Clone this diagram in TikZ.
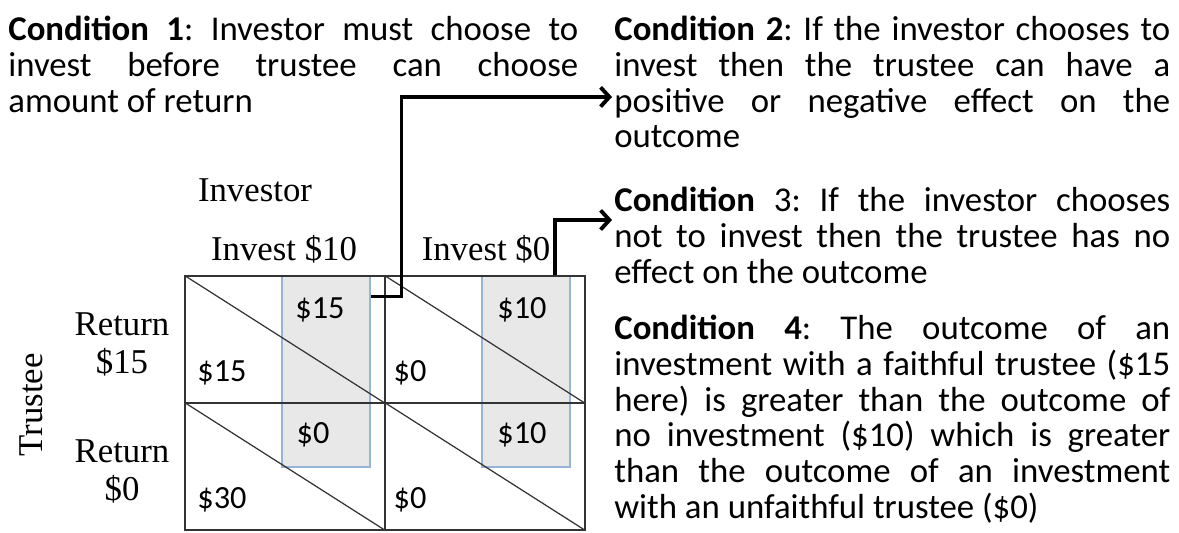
\documentclass[tikz,border=0pt]{standalone}
\usepackage{fontspec}
\setmainfont{Carlito}
\newfontfamily\tnr{Liberation Serif}
\usepackage{tikz}
\usetikzlibrary{arrows.meta, positioning, calc}
\definecolor{hlblue}{RGB}{150,180,215}
\frenchspacing

\begin{document}
\begin{tikzpicture}[
  x=0.02cm, y=-0.02cm,
  cond/.style={font=\fontsize{19.8}{20.3}\selectfont, align=justify, inner sep=0pt, anchor=north west},
  lbl/.style={font=\tnr\fontsize{19.8}{21.6}\selectfont, inner sep=1pt, align=center},
  pay/.style={font=\fontsize{18.4}{20}\selectfont, inner sep=1pt},
  cell/.style={draw=black!80, line width=0.7pt, minimum width=4cm, minimum height=2.54cm, inner sep=0pt},
  hl/.style={draw=hlblue, fill=gray!18, line width=0.6pt, minimum width=1.76cm, minimum height=3.82cm, inner sep=0pt},
  arr/.style={-{Straight Barb[length=5pt,width=11pt]}, line width=2.2pt},
]
\useasboundingbox (0,0) rectangle (1179,533);

% Conditions
\node[cond, text width=11.4cm] (c1) at (8,16)
  {\textbf{Condition 1}: Investor must choose to\linebreak
   invest before trustee can choose\linebreak amount of return};
\node[cond, text width=11.12cm] (c2) at (614,16)
  {\textbf{Condition 2}: If the investor chooses to\linebreak
   invest then the trustee can have a\linebreak
   positive or negative effect on the\linebreak outcome};
\node[cond, text width=11.12cm] (c3) at (614,187)
  {\textbf{Condition} 3: If the investor chooses\linebreak
   not to invest then the trustee has no\linebreak effect on the outcome};
\node[cond, text width=11.12cm] (c4) at (614,315)
  {\textbf{Condition 4}: The outcome of an\linebreak
   investment with a faithful trustee (\$15\linebreak
   here) is greater than the outcome of\linebreak
   no investment (\$10) which is greater\linebreak
   than the outcome of an investment\linebreak
   with an unfaithful trustee (\$0)};

% Payoff matrix
\node[hl] (hlL) at (326,371.5) {};
\node[hl] (hlR) at (526,371.5) {};
\node[cell] (m11) at (285,339.5) {};
\node[cell] (m12) at (485,339.5) {};
\node[cell] (m21) at (285,466.5) {};
\node[cell] (m22) at (485,466.5) {};
\foreach \m in {m11,m12,m21,m22}
  \draw[black!80, line width=0.7pt] (\m.north west) -- (\m.south east);

\node[pay] (p11a) at (320,310) {\$15};
\node[pay] (p11b) at (222,373) {\$15};
\node[pay] (p12a) at (522,310) {\$10};
\node[pay] (p12b) at (410,373) {\$0};
\node[pay] (p21a) at (313,435) {\$0};
\node[pay] (p21b) at (222,500) {\$30};
\node[pay] (p22a) at (522,435) {\$10};
\node[pay] (p22b) at (410,500) {\$0};

% Players and strategies
\node[lbl] (inv) at (255,190) {Investor};
\node[lbl] (s1) at (284,249) {Invest \$10};
\node[lbl] (s2) at (486,249) {Invest \$0};
\node[lbl] (r1) at (122,344) {Return\\\$15};
\node[lbl] (r2) at (122,471) {Return\\\$0};
\node[lbl, rotate=90] (tr) at (31,405) {Trustee};

% Arrows to conditions
\coordinate (e2) at ([xshift=-0.04cm, yshift=-1.62cm]c2.north west);
\coordinate (e3) at ([xshift=-0.04cm, yshift=-0.66cm]c3.north west);
\draw[arr] ([yshift=-0.42cm]hlL.north east) -- ++(31,0) |- (e2);
\draw[arr] ([xshift=0.58cm]hlR.north) |- (e3);
\end{tikzpicture}
\end{document}
